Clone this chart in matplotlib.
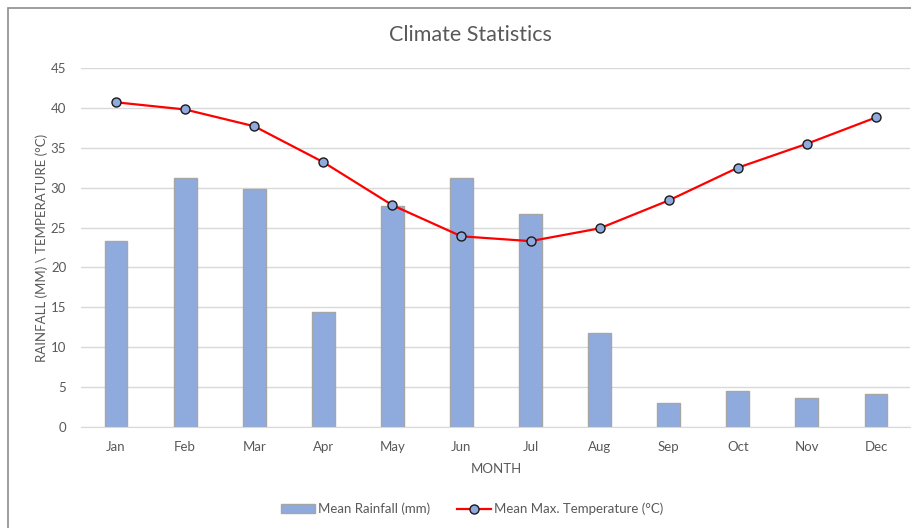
import matplotlib
matplotlib.use("Agg")
import matplotlib.pyplot as plt
from matplotlib.lines import Line2D
from matplotlib.patches import Patch, Rectangle

months = ["Jan", "Feb", "Mar", "Apr", "May", "Jun", "Jul", "Aug", "Sep", "Oct", "Nov", "Dec"]
rainfall = [23.3, 31.2, 29.8, 14.4, 27.7, 31.2, 26.7, 11.8, 3.0, 4.5, 3.6, 4.1]
max_temp = [40.7, 39.8, 37.7, 33.2, 27.8, 23.9, 23.3, 24.9, 28.4, 32.5, 35.5, 38.8]
yticks = [0, 5, 10, 15, 20, 25, 30, 35, 40, 45]

plt.rcParams['font.family'] = ['Lato', 'DejaVu Sans']
gray = "#595959"

W, H = 912, 528
fig = plt.figure(figsize=(W / 100, H / 100), dpi=100)
fig.patch.set_facecolor("white")

# chart frame (partially cropped)
fig.add_artist(Rectangle((8 / W, -0.1), 1.2, (H - 8) / H + 0.1, transform=fig.transFigure,
                         fill=False, edgecolor="#8c8c8c", linewidth=1.2))

ax_left, ax_right = 81.5, 910.5
ax = fig.add_axes([ax_left / W, (H - 427) / H, (ax_right - ax_left) / W, (427 - 68) / H])
x = list(range(len(months)))
ax.bar(x, rainfall, width=0.33, color="#8faadc", edgecolor="#a6a6a6", linewidth=1.0,
       zorder=2, label="Mean Rainfall (mm)")
ax.plot(x, max_temp, color="#ff0000", linewidth=1.6, marker="o", markersize=6.5,
        markerfacecolor="#8faadc", markeredgecolor="#1a1a1a", markeredgewidth=1.0,
        zorder=3, label="Mean Max. Temperature (°C)")

ax.set_xlim(-0.5, len(months) - 0.5)
ax.set_ylim(0, 45)
ax.set_yticks(yticks)
ax.set_xticks(x)
ax.set_xticklabels(months)
ax.grid(axis="y", color="#d9d9d9", linewidth=1.0, zorder=0)
ax.set_axisbelow(True)
for s in ["top", "right", "left"]:
    ax.spines[s].set_visible(False)
ax.spines["bottom"].set_color("#d9d9d9")
ax.tick_params(axis="both", length=0, colors=gray, labelsize=9.5)
ax.tick_params(axis="x", pad=10)
ax.tick_params(axis="y", pad=11)

ax.set_xlabel("MONTH", color=gray, fontsize=9.5, labelpad=7)
ax.set_ylabel("RAINFALL (MM) \\ TEMPERATURE (°C)", color=gray, fontsize=9.5, va="center")
ax.yaxis.set_label_coords((42 - ax_left) / (ax_right - ax_left), 0.5)
fig.text(470 / W, 1 - 35 / H, "Climate Statistics", ha="center", va="center",
         color=gray, fontsize=15.5)

handles = [Patch(facecolor="#8faadc", edgecolor="#a6a6a6", label="Mean Rainfall (mm)"),
           Line2D([0], [0], color="#ff0000", linewidth=1.6, marker="o", markersize=6.5,
                  markerfacecolor="#8faadc", markeredgecolor="#1a1a1a",
                  label="Mean Max. Temperature (°C)")]
leg = fig.legend(handles=handles, loc="center", bbox_to_anchor=(472 / W, 1 - 509 / H),
                 ncol=2, frameon=False, fontsize=9.5, handlelength=2.6, handletextpad=0.2,
                 columnspacing=2.0)
for t in leg.get_texts():
    t.set_color(gray)

fig.savefig("out.png", dpi=100)
